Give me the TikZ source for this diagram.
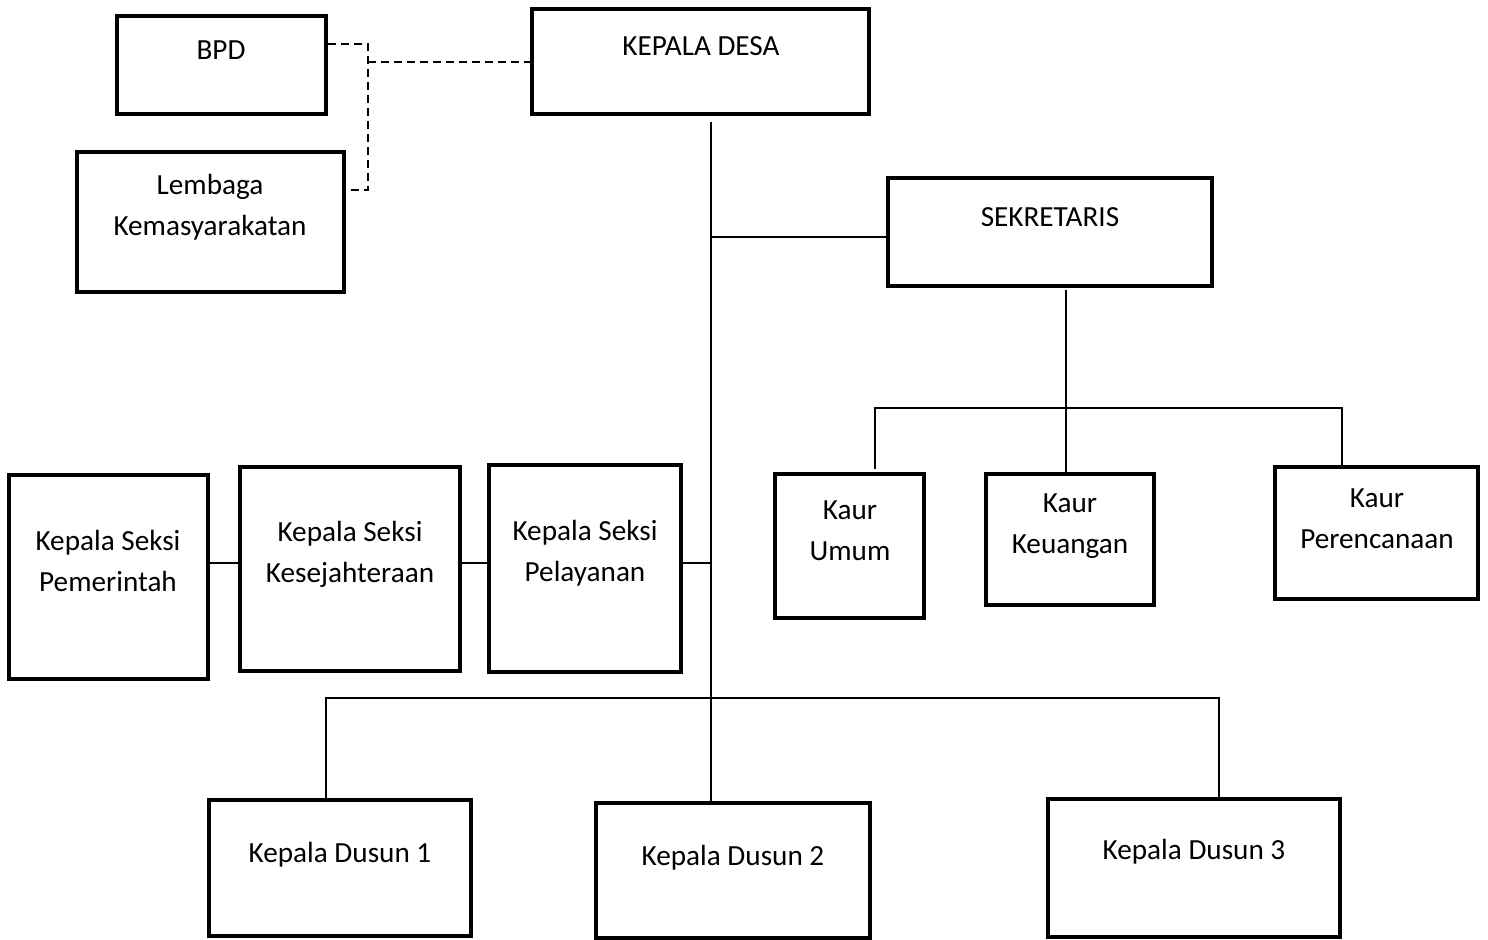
\documentclass[tikz,border=0pt]{standalone}
\usepackage{fontspec}
\setmainfont{Carlito}
\begin{document}
\begin{tikzpicture}[x=0.5pt, y=-0.5pt, line join=miter, font=\fontsize{14.6}{20.5}\selectfont,
  box/.style={draw, line width=2.4pt, inner sep=0pt},
  lbl/.style={align=center, inner sep=0pt},
  link/.style={line width=1pt},
  dlink/.style={line width=1pt, dash pattern=on 4pt off 2.5pt}]
\useasboundingbox (0,0) rectangle (1488,939);
% boxes
\node[box, minimum width=104.5pt, minimum height=49pt] (bpd) at (221.5,65) {};
\node[box, minimum width=133.5pt, minimum height=70pt] (lem) at (210.5,222) {};
\node[box, minimum width=168.5pt, minimum height=52.5pt] (kades) at (700.5,61.5) {};
\node[box, minimum width=162pt, minimum height=54pt] (sek) at (1050,232) {};
\node[box, minimum width=74.5pt, minimum height=72pt] (umum) at (849.5,546) {};
\node[box, minimum width=84pt, minimum height=65.5pt] (keu) at (1070,539.5) {};
\node[box, minimum width=101.5pt, minimum height=66pt] (plan) at (1376.5,533) {};
\node[box, minimum width=99.5pt, minimum height=102pt] (pem) at (108.5,577) {};
\node[box, minimum width=110pt, minimum height=102pt] (kes) at (350,569) {};
\node[box, minimum width=96pt, minimum height=103.5pt] (pel) at (585,568.5) {};
\node[box, minimum width=131pt, minimum height=68pt] (dus1) at (340,868) {};
\node[box, minimum width=137pt, minimum height=67.5pt] (dus2) at (733,870.5) {};
\node[box, minimum width=146pt, minimum height=69pt] (dus3) at (1194,868) {};
% texts
\node[lbl] (bpdt) at (221,50) {BPD};
\node[lbl] (lemt) at (210,207) {Lembaga\\Kemasyarakatan};
\node[lbl] (kadest) at (701,46) {KEPALA DESA};
\node[lbl] (sekt) at (1050,217) {SEKRETARIS};
\node[lbl] (umumt) at (850,531) {Kaur\\Umum};
\node[lbl] (keut) at (1070,526) {Kaur\\Keuangan};
\node[lbl] (plant) at (1377,519) {Kaur\\Perencanaan};
\node[lbl] (pemt) at (108,561) {Kepala Seksi\\Pemerintah};
\node[lbl] (kest) at (350,554) {Kepala Seksi\\Kesejahteraan};
\node[lbl] (pelt) at (585,553) {Kepala Seksi\\Pelayanan};
\node[lbl] (dus1t) at (340,855) {Kepala Dusun 1};
\node[lbl] (dus2t) at (733,858) {Kepala Dusun 2};
\node[lbl] (dus3t) at (1194,852) {Kepala Dusun 3};
% lines
\coordinate (top) at (711,122);
\draw[link] (top) -- (top |- dus2.north);
\draw[link] (top |- 0,237) -- (sek.west |- 0,237);
\coordinate (kl) at (875,408);
\coordinate (kr) at (1342,408);
\draw[link] (1066,290) -- (1066,474);
\draw[link] (875,469) -- (kl) -- (kr) -- (1342,466);
\draw[link] (pem.east |- 0,563) -- (kes.west |- 0,563);
\draw[link] (kes.east |- 0,563) -- (pel.west |- 0,563);
\draw[link] (pel.east |- 0,563) -- (top |- 0,563);
\coordinate (dl) at (326,698);
\coordinate (dr) at (1219,698);
\draw[link] (dl |- dus1.north) -- (dl) -- (dr) -- (dr |- dus3.north);
% dashed
\draw[dlink] (bpd.east |- 0,44) -| (368,190) -- (lem.east |- 0,190);
\draw[dlink] (368,62) -- (kades.west |- 0,62);
\end{tikzpicture}
\end{document}
